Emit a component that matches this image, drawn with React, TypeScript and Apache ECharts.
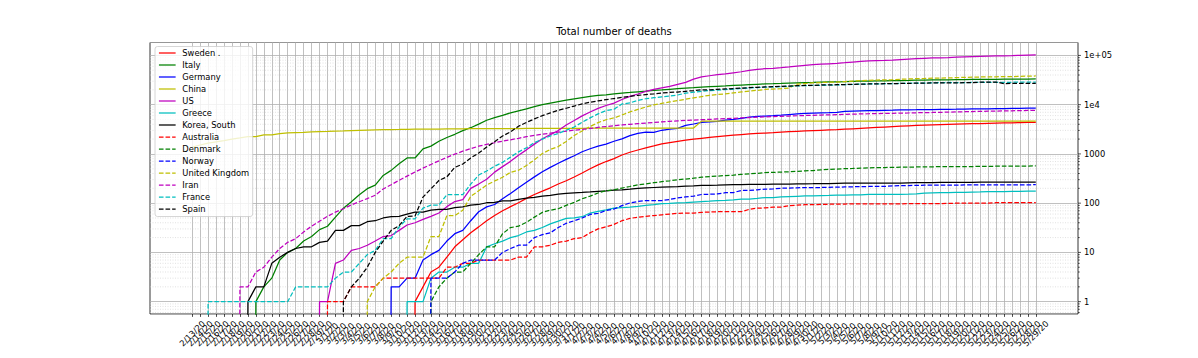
import React, { useEffect, useRef } from 'react';
import * as echarts from 'echarts';

const dates = [
  '2/13/20','2/14/20','2/15/20','2/16/20','2/17/20','2/18/20','2/19/20','2/20/20','2/21/20','2/22/20','2/23/20','2/24/20','2/25/20','2/26/20','2/27/20','2/28/20','2/29/20',
  '3/1/20','3/2/20','3/3/20','3/4/20','3/5/20','3/6/20','3/7/20','3/8/20','3/9/20','3/10/20','3/11/20','3/12/20','3/13/20','3/14/20','3/15/20','3/16/20','3/17/20','3/18/20','3/19/20','3/20/20','3/21/20','3/22/20','3/23/20','3/24/20','3/25/20','3/26/20','3/27/20','3/28/20','3/29/20','3/30/20','3/31/20',
  '4/1/20','4/2/20','4/3/20','4/4/20','4/5/20','4/6/20','4/7/20','4/8/20','4/9/20','4/10/20','4/11/20','4/12/20','4/13/20','4/14/20','4/15/20','4/16/20','4/17/20','4/18/20','4/19/20','4/20/20','4/21/20','4/22/20','4/23/20','4/24/20','4/25/20','4/26/20','4/27/20','4/28/20','4/29/20','4/30/20',
  '5/1/20','5/2/20','5/3/20','5/4/20','5/5/20','5/6/20','5/7/20','5/8/20','5/9/20','5/10/20','5/11/20','5/12/20','5/13/20','5/14/20','5/15/20','5/16/20','5/17/20','5/18/20','5/19/20','5/20/20','5/21/20','5/22/20','5/23/20','5/24/20','5/25/20','5/26/20','5/27/20','5/28/20','5/29/20',
];

const sweden = [
  0,0,0,0,0,0,0,0,0,0,0,0,0,0,0,0,0,
  0,0,0,0,0,0,0,0,0,0,0, 1,2,4,5,8,13,18,25,33,44,56,70,85,102,125,150,175,205,245,285,
  340,410,500,600,700,800,950,1080,1200,1320, 1450,1600,1700,1800,1900,2000,2080,2160,2240,2320, 2400,2470,2540,2600,2650,2700,2760,2820,2880,2930,
  2980,3020,3060,3100,3170,3240,3310,3380,3450,3520, 3590,3660,3720,3780,3830,3880,3930,3980,4020,4060, 4100,4140,4180,4220,4260,4290,4320,4350,4380,
];
const italy = [
  0,0,0,0,0,0,0,0, 1,2,3,7,10,12,17,21,29,
  34,52,79,107,148,197,233,366,463,631, 827,827,1266,1441,1809,2158,2503,2978,3405,4032, 4825,5476,6077,6820,7503,8215,9134,10023,10779,11591, 12428,
  13155,13915,14681,15362,15887,16523,17127,17669,18279,18849, 19468,19899,20465,21067,21645,22170,22745,23227,23660,24114, 24648,25085,25549,25969,26384,26644,26977,27359,27682,27967,
  28236,28710,28884,29079,29315,29684,29958,30201,30395,30560, 30739,30911,31106,31368,31610,31763,31908,32007,32169,32330, 32486,32616,32735,32785,32877,32955,33072,33142,33229,
];
const germany = [
  0,0,0,0,0,0,0,0,0,0,0,0,0,0,0,0,0,
  0,0,0,0,0,0,0,0, 2,2,3,3,7,9,11,17,24,28, 44,67,84,94,123,157,206,267,342,433, 533,645,775,
  920,1107,1275,1444,1584,1810,2016,2349,2607,2767, 2736,3022,3194,3294,3804,4052,4352,4459,4586,4862, 5033,5279,5575,5760,5877,5976,6126,6314,6467,6623,
  6736,6812,6866,6993,7275,7392,7510,7549,7569,7661, 7738,7861,7884,7897,7938,7962,7997,8027,8081,8144, 8203,8228,8261,8283,8309,8372,8428,8470,8504,
];
const china = [
  1368,1518,1662,1765,1863,2002,2114,2236,2236,2441,2443,2593,2663,2715,2744,2788,2835,
  2870,2912,2943,2981,3013,3042,3070,3097,3119,3136, 3158,3169,3176,3189,3199,3213,3226,3237,3245,3249, 3253,3259,3274,3274,3281,3285,3291,3296,3299,3304, 3308,
  3309,3316,3322,3326,3330,3333,3335,3338,3339,3340, 3343,3343,3345,3345,3346,3346,4636,4636,4636,4636, 4636,4636,4636,4636,4637,4637,4637,4637,4637,4637,
  4637,4637,4637,4637,4637,4637,4637,4637,4637,4637, 4637,4637,4637,4637,4637,4638,4638,4638,4638,4638, 4638,4638,4638,4638,4638,4638,4638,4638,4638,
];
const us = [
  0,0,0,0,0,0,0,0,0,0,0,0,0,0,0,0, 1,
  1,6,7,11,12,14,17,21,22,28, 36,40,47,54,63,85,108,118,200,244, 307,427,552,706,942,1209,1581,2026,2467,2978, 3873,
  4757,5926,7087,8407,9619,10783,12722,14695,16478,18586, 20463,22020,23529,25832,28325,32916,36773,38664,40661,42094, 44444,46622,49954,51949,53755,54881,56259,58355,60967,62996,
  64943,66369,67682,68922,71064,73455,75662,77180,78795,79526, 80682,82376,84119,85898,87530,88754,89562,90347,91921,93439, 94702,95979,97087,97720,98223,98916,100442,101617,102836,
];
const greece = [
  0,0,0,0,0,0,0,0,0,0,0,0,0,0,0,0,0,
  0,0,0,0,0,0,0,0,0,0, 1,1,1,3,4,4,5,5,6,6, 13,15,17,20,22,26,28,32,38,43, 49,
  50,53,63,68,73,79,81,83,86,90, 93,98,99,101,102,105,108,110,113,114, 116,121,121,125,130,130,134,136,138,140,
  140,143,144,146,146,147,148,150,150,151, 151,151,152,155,160,162,163,163,165,166, 168,169,171,171,172,173,173,175,175,
];
const korea = [
  0,0,0,0,0,0,0, 1,2,2,6,8,10,12,13,13,16,
  17,28,28,35,35,42,44,50,53,54, 60,66,66,72,75,75,81,84,91,94, 102,104,111,111,120,126,131,139,144,152, 158,
  162,165,169,174,177,183,186,192,200,204, 208,211,214,217,222,225,229,230,232,236, 237,238,240,240,242,243,243,244,246,247,
  248,250,250,252,254,255,256,256,256,256, 256,256,259,260,260,262,263,263,263,264, 264,266,266,266,267,269,269,269,269,
];
const australia = [
  0,0,0,0,0,0,0,0,0,0,0,0,0,0,0,0,0,
  1,1,1,2,2,2,2,3,3,3, 3,3,3,3,3,5,5,6,6,7, 7,7,7,7,8,8,13,13,14,16, 17,
  19,20,25,30,33,37,44,49,52,54, 56,58,60,62,63,63,65,66,67,67, 67,67,75,79,80,83,83,89,91,93,
  93,95,95,96,96,97,97,97,97,97, 97,97,98,98,98,98,98,99,100,100, 100,100,100,102,102,103,103,103,103,
];
const denmark = [
  0,0,0,0,0,0,0,0,0,0,0,0,0,0,0,0,0,
  0,0,0,0,0,0,0,0,0,0,0,0,0, 1,2,3,4,4,6,9,13,13,24, 32,34,41,52,65,72,77,90,
  104,123,139,161,179,187,203,218,237,247, 260,273,285,299,309,321,336,346,355,364, 370,384,394,403,418,422,427,434,443,452,
  460,475,484,493,503,506,514,522,526,529, 533,537,537,543,547,548,551,551,552,554, 554,561,561,562,563,563,565,568,571,
];
const norway = [
  0,0,0,0,0,0,0,0,0,0,0,0,0,0,0,0,0,
  0,0,0,0,0,0,0,0,0,0,0,0,0, 3,3,3,4,6,7,7,7,7,10, 12,14,14,20,23,25,32,39,
  44,50,59,62,71,76,89,101,108,113, 113,113,119,128,134,139,150,152,154,163, 164,181,182,187,193,194,201,201,205,207,
  207,208,210,211,214,215,217,218,218,219, 224,228,228,229,232,232,232,233,233,234, 234,235,235,235,235,235,236,236,237,
];
const unitedKingdom = [
  0,0,0,0,0,0,0,0,0,0,0,0,0,0,0,0,0,
  0,0,0,0,0, 1,2,3,4,6,8,8,8,21,21,56,56,72,138,178, 234,282,336,423,466,580,761,1021,1231,1411, 1793,
  2357,2926,3611,4320,4943,5385,6171,7111,7993,8974, 9892,10629,11347,12129,12894,13759,14607,15498,16095,16550, 17378,18151,18791,19567,20381,20794,21180,21787,26166,26842,
  27583,28205,28520,28809,29501,30150,30689,31316,31662,31930, 32141,32769,33264,33692,34078,34546,34716,34876,35422,35786, 36124,36475,36757,36875,36996,37130,37542,37919,38243,
];
const iran = [
  0,0,0,0,0,0, 2,2,4,5,8,12,16,19,26,34,43,
  54,66,77,92,107,124,145,194,237,291, 354,429,514,611,724,853,988,1135,1284,1433, 1556,1685,1812,1934,2077,2234,2378,2517,2640,2757, 2898,
  3036,3160,3294,3452,3603,3739,3872,3993,4110,4232, 4357,4474,4585,4683,4777,4869,4958,5031,5118,5209, 5297,5391,5481,5574,5650,5710,5806,5877,5957,6028,
  6091,6156,6203,6277,6340,6418,6486,6541,6589,6640, 6685,6733,6783,6854,6902,6937,6988,7057,7119,7183, 7249,7300,7359,7417,7451,7508,7564,7627,7677,
];
const france = [
  0,0, 1,1,1,1,1,1,1,1,1,1,1, 2,2,2,2,
  2,3,4,4,6,9,11,19,19,33, 48,48,79,91,91,149,149,149,244,372, 450,562,674,860,1100,1331,1696,1995,2314,2606, 3024,
  3523,4403,5387,6507,7560,8078,10328,10869,12210,13197, 13832,14393,14967,15729,17167,17920,18681,19323,19718,20265, 20796,21340,21856,22245,22614,22856,23293,23660,24087,24379,
  24594,24760,24895,25201,25531,25809,26230,26310,26383,26643, 26646,26994,27077,27425,27529,27625,28111,28239,28022,28132, 28215,28289,28332,28367,28460,28530,28599,28665,28714,
];
const spain = [
  0,0,0,0,0,0,0,0,0,0,0,0,0,0,0,0,0,
  0,0, 1,2,3,5,10,17,28,35, 54,55,133,195,289,342,533,623,830,1043, 1375,1772,2311,2808,3647,4365,5138,5982,6803,7716, 8464,
  9387,10348,11198,11947,12641,13341,14045,14792,15447,16081, 16606,17209,17756,18056,18708,19315,20002,20043,20453,20852, 21282,21717,22157,22524,22902,23190,23521,23822,24275,24543,
  24543,25100,25264,25428,25613,25857,26070,26299,26478,26621, 26744,26920,27104,27321,27459,27563,27650,27709,27778,27888, 27940,28628,28678,28752,26834,27117,27117,27118,27121,
];

const countryNames = ['Sweden .', 'Italy', 'Germany', 'China', 'US', 'Greece', 'Korea, South', 'Australia', 'Denmark', 'Norway', 'United Kingdom', 'Iran', 'France', 'Spain'];
const countryValues = [sweden, italy, germany, china, us, greece, korea, australia, denmark, norway, unitedKingdom, iran, france, spain];
const countryColors = ['#ff0000', '#008000', '#0000ff', '#bfbf00', '#bf00bf', '#00bfbf', '#000000', '#ff0000', '#008000', '#0000ff', '#bfbf00', '#bf00bf', '#00bfbf', '#000000'];
const countryDashed = [false, false, false, false, false, false, false, true, true, true, true, true, true, true];

const yMajorTicks = [1, 10, 100, 1000, 10000, 100000];
const yMajorLabels = ['1', '10', '100', '1000', '1e4', '1e+05'];
const yMinorTicks = [
  0.6, 0.7, 0.8, 0.9,
  2, 3, 4, 5, 6, 7, 8, 9,
  20, 30, 40, 50, 60, 70, 80, 90,
  200, 300, 400, 500, 600, 700, 800, 900,
  2000, 3000, 4000, 5000, 6000, 7000, 8000, 9000,
  20000, 30000, 40000, 50000, 60000, 70000, 80000, 90000,
];

const Y_MIN = 0.5615;
const Y_MAX = 183000;
// matplotlib clips non-positive values on a log axis to a tiny positive number
const LOG_CLIP = 1e-30;
const FONT = 'DejaVu Sans';
const DASH = [4.6, 2];

function buildOption(): any {
  const lineSeries = countryNames.map((name, i) => ({
    name,
    type: 'line',
    xAxisIndex: 1,
    yAxisIndex: 1,
    data: countryValues[i].map((v) => (v > 0 ? v : LOG_CLIP)),
    showSymbol: false,
    symbol: 'none',
    clip: true,
    silent: true,
    z: 3,
    color: countryColors[i],
    itemStyle: { color: countryColors[i] },
    lineStyle: { color: countryColors[i], width: 1.25, type: countryDashed[i] ? DASH : 'solid' },
    emphasis: { disabled: true },
  }));

  const tickData = [
    ...yMajorTicks.map((v) => [0.5, v, 1]),
    ...yMinorTicks.map((v) => [0.5, v, 0]),
  ];

  const tickSeries = {
    name: 'yticks',
    type: 'custom',
    xAxisIndex: 0,
    yAxisIndex: 0,
    silent: true,
    z: 1,
    clip: false,
    data: tickData,
    renderItem: (params: any, api: any) => {
      const v = api.value(1);
      const major = api.value(2) === 1;
      const y = api.coord([0.5, v])[1];
      const cs = params.coordSys;
      const right = cs.x + cs.width;
      const children: any[] = [];
      if (!major) {
        children.push({
          type: 'line',
          shape: { x1: cs.x, y1: y, x2: right, y2: y },
          style: { stroke: '#cfcfcf', lineWidth: 0.6, lineDash: [1, 1.5] },
        });
      }
      children.push({
        type: 'line',
        shape: { x1: right, y1: y, x2: right + (major ? 2.9 : 1.7), y2: y },
        style: { stroke: '#000', lineWidth: 0.7 },
      });
      return { type: 'group', children };
    },
  };

  return {
    animation: false,
    backgroundColor: '#ffffff',
    title: {
      text: 'Total number of deaths',
      left: 614,
      top: 26.5,
      padding: 0,
      textAlign: 'center',
      textStyle: { fontSize: 10, fontWeight: 'normal', color: '#000', fontFamily: FONT },
    },
    legend: {
      orient: 'vertical',
      left: 155,
      top: 46.5,
      padding: [2.5, 3.5, 3.5, 3.3],
      itemWidth: 16.7,
      itemHeight: 10,
      itemGap: 4,
      backgroundColor: 'rgba(255,255,255,0.8)',
      borderColor: '#cccccc',
      borderWidth: 0.8,
      borderRadius: 2.5,
      itemStyle: { opacity: 0 },
      textStyle: { fontSize: 8.33, color: '#000', fontFamily: FONT, padding: [0, 0, 0, 1.7] },
      data: countryNames.map((name, i) => ({
        name,
        itemStyle: { opacity: 0 },
        lineStyle: { color: countryColors[i], width: 1.25, type: countryDashed[i] ? DASH : 'solid', opacity: 1 },
      })),
      selectedMode: false,
    },
    grid: [
      {
        left: 150, right: 120, top: 42.5, bottom: 44,
        show: true, borderColor: '#000', borderWidth: 0.8, backgroundColor: 'transparent',
        outerBoundsMode: 'none', containLabel: false,
      },
      {
        left: 192.2, right: 162.2, top: 42.5, bottom: 44,
        outerBoundsMode: 'none', containLabel: false,
      },
    ],
    xAxis: [
      { type: 'value', gridIndex: 0, min: 0, max: 1, show: false },
      {
        type: 'category',
        gridIndex: 1,
        data: dates,
        boundaryGap: false,
        axisLine: { show: false },
        axisTick: { show: true, interval: 0, length: 2.9, lineStyle: { color: '#000', width: 0.7 } },
        axisLabel: {
          interval: 0, rotate: 45, align: 'center', verticalAlign: 'middle', margin: 19.5,
          fontSize: 8.33, color: '#000', fontFamily: FONT, hideOverlap: false,
        },
        splitLine: { show: true, interval: 0, lineStyle: { color: '#b0b0b0', width: 0.8 } },
      },
    ],
    yAxis: [
      {
        type: 'log',
        logBase: 10,
        gridIndex: 0,
        position: 'right',
        min: Y_MIN,
        max: Y_MAX,
        axisLine: { show: false },
        axisTick: { show: false },
        axisLabel: {
          show: true, margin: 6, fontSize: 8.33, color: '#000', fontFamily: FONT,
          showMinLabel: false, showMaxLabel: false, hideOverlap: false,
          formatter: (v: number) => {
            const i = yMajorTicks.findIndex((t) => Math.abs(Math.log10(v) - Math.log10(t)) < 1e-6);
            return i >= 0 ? yMajorLabels[i] : '';
          },
        },
        splitLine: { show: true, lineStyle: { color: '#b0b0b0', width: 0.8 } },
      },
      {
        type: 'log', logBase: 10, gridIndex: 1, min: Y_MIN, max: Y_MAX, show: false,
        splitLine: { show: false },
      },
    ],
    series: [tickSeries, ...lineSeries],
  };
}

export default function App() {
  const ref = useRef<HTMLDivElement>(null);
  useEffect(() => {
    if (!ref.current) return;
    const chart = echarts.init(ref.current, null, { renderer: 'svg' });
    chart.setOption(buildOption());
    return () => chart.dispose();
  }, []);
  return <div ref={ref} style={{ position: 'fixed', left: 0, top: 0, width: 1198, height: 358, background: '#fff' }} />;
}
